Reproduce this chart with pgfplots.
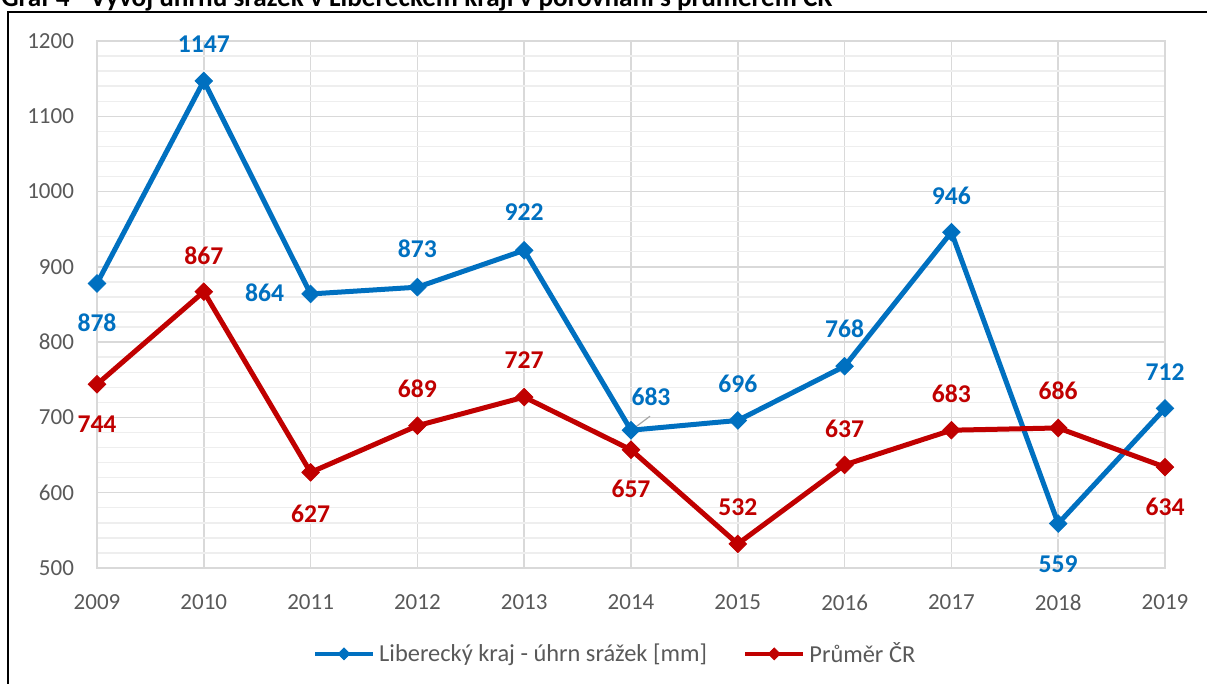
\documentclass[border=0pt]{standalone}
\usepackage{pgfplots}
\pgfplotsset{compat=1.18}
\usepackage{pgfplotstable}
\usepackage{fontspec}
\setmainfont{Carlito}
\definecolor{blu}{RGB}{0,112,192}
\definecolor{rd}{RGB}{192,0,0}
\definecolor{txt}{RGB}{89,89,89}
\definecolor{gmaj}{RGB}{217,217,217}
\definecolor{gmin}{RGB}{238,238,238}

\pgfplotstableread{
year val dx dy
2009 878 0 -19.5
2010 1147 0 18.5
2011 864 -23 0.5
2012 873 0 19
2013 922 0 19
2014 683 10 16.5
2015 696 0 18.5
2016 768 0 18.5
2017 946 0 18
2018 559 0 -20.5
2019 712 0 18
}\libdata

\pgfplotstableread{
year val dx dy
2009 744 0 -20
2010 867 0 18
2011 627 0 -20.5
2012 689 0 18.5
2013 727 0 18.5
2014 657 0 -19.5
2015 532 0 18.5
2016 637 0 18
2017 683 0 18
2018 686 0 18.5
2019 634 0 -20
}\czdata

\begin{document}
\begin{tikzpicture}
\clip (0pt,0pt) rectangle (603.5pt,342pt);
\draw[line width=1pt] (4pt,-10pt) -- (4pt,336pt) -- (615pt,336pt);
\node[anchor=base west, inner sep=0pt, font=\bfseries\fontsize{13.6}{16}\selectfont] at (0.5pt,338.7pt) {Graf 4 - Vývoj úhrnu srážek v Libereckém kraji v porovnání s průměrem ČR};
\begin{axis}[
  at={(48.5pt,58pt)}, anchor=south west,
  scale only axis, width=534pt, height=263.5pt,
  xmin=2009, xmax=2019, ymin=500, ymax=1200,
  xtick={2009,2010,...,2019}, ytick={500,600,...,1200},
  minor y tick num=4,
  grid=both,
  major grid style={gmaj, line width=0.75pt},
  minor grid style={gmin, line width=0.7pt},
  axis line style={gmaj, line width=0.75pt},
  tick style={draw=none},
  /pgf/number format/assume math mode=true,
  /pgf/number format/1000 sep={},
  ticklabel style={text=txt, font=\fontsize{11.5}{13}\selectfont},
  x tick label style={yshift=-10pt},
  y tick label style={xshift=-8pt},
  clip=false,
  legend columns=2,
  legend cell align=left,
  legend style={at={(axis description cs:0.486,-0.163)}, anchor=center, draw=none, fill=none,
    font=\fontsize{12.2}{14}\selectfont, text=txt,
    /tikz/every even column/.append style={column sep=16pt}},
  legend image code/.code={\draw[mark repeat=2, mark phase=2, #1, line width=2.2pt, mark size=2.1pt] plot coordinates {(0pt,0pt) (14.5pt,0pt) (29pt,0pt)};},
]
\addplot[blu, line width=2.5pt, mark=square*, mark size=3.1pt, mark options={solid, rotate=45, line width=0.4pt}] table[x=year, y=val] {\libdata};
\addlegendentry{Liberecký kraj - úhrn srážek [mm]}
\addplot[rd, line width=2.5pt, mark=square*, mark size=3.1pt, mark options={solid, rotate=45, line width=0.4pt}] table[x=year, y=val] {\czdata};
\addlegendentry{Průměr ČR}
\draw[gray!70, line width=0.6pt] (axis cs:2014,683) ++(1.5pt,1pt) -- ++(8pt,6pt);
\addplot[draw=none, mark=none, forget plot, nodes near coords, point meta=explicit,
  visualization depends on={\thisrow{dx}\as\dx},
  visualization depends on={\thisrow{dy}\as\dy},
  nodes near coords align={center},
  every node near coord/.append style={anchor=center, xshift=\dx pt, yshift=\dy pt, text=blu, font=\bfseries\fontsize{12.8}{15}\selectfont}]
  table[x=year, y=val, meta=val] {\libdata};
\addplot[draw=none, mark=none, forget plot, nodes near coords, point meta=explicit,
  visualization depends on={\thisrow{dx}\as\dx},
  visualization depends on={\thisrow{dy}\as\dy},
  nodes near coords align={center},
  every node near coord/.append style={anchor=center, xshift=\dx pt, yshift=\dy pt, text=rd, font=\bfseries\fontsize{12.8}{15}\selectfont}]
  table[x=year, y=val, meta=val] {\czdata};
\end{axis}
\end{tikzpicture}
\end{document}
